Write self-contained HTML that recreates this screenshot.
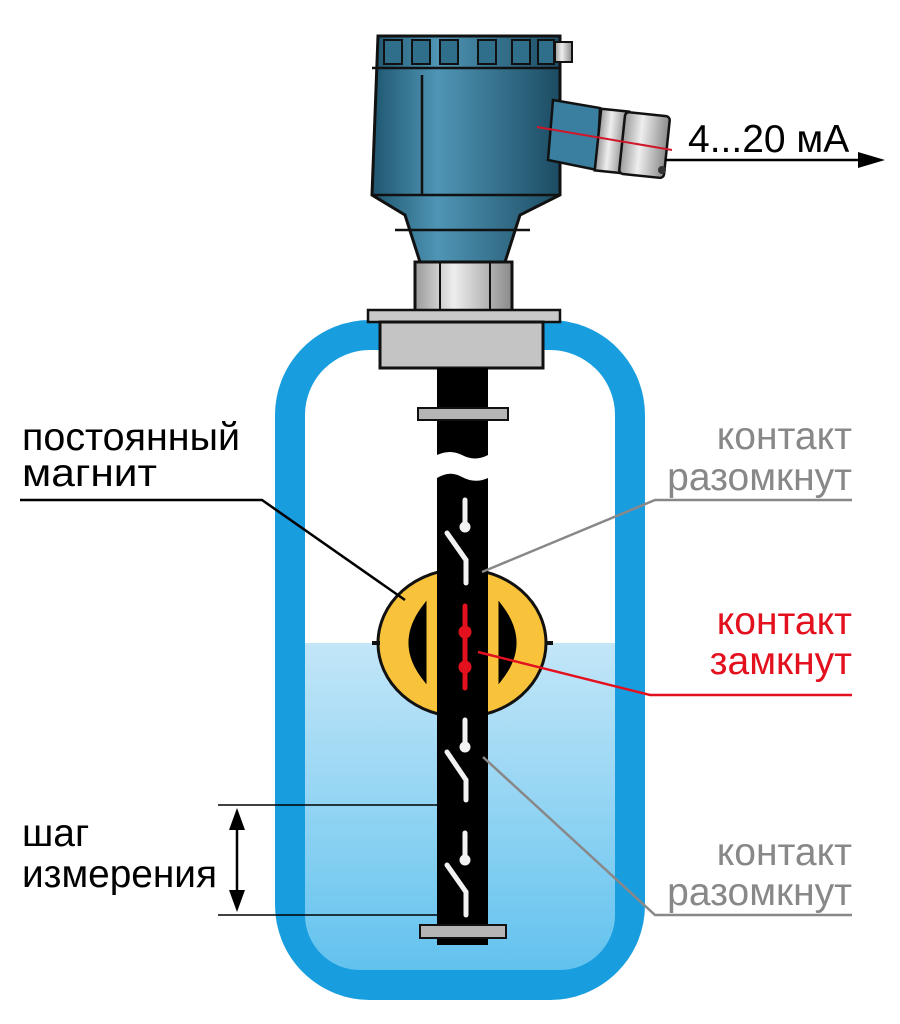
<!DOCTYPE html>
<html><head><meta charset="utf-8"><style>
html,body{margin:0;padding:0;background:#fff;}
svg{display:block;}
text{font-family:"Liberation Sans",sans-serif;font-size:39px;}
</style></head><body>
<svg width="900" height="1024" viewBox="0 0 900 1024" xmlns="http://www.w3.org/2000/svg">
<defs>
<linearGradient id="water" x1="0" y1="0" x2="0" y2="1"><stop offset="0" stop-color="#c3e6f8"/><stop offset="1" stop-color="#62c2ee"/></linearGradient>
<linearGradient id="body" x1="0" y1="0" x2="1" y2="0"><stop offset="0" stop-color="#1f566f"/><stop offset="0.35" stop-color="#4f95b5"/><stop offset="1" stop-color="#1c4c63"/></linearGradient>
<linearGradient id="metal" x1="0" y1="0" x2="1" y2="0"><stop offset="0" stop-color="#9a9a9a"/><stop offset="0.4" stop-color="#eeeeee"/><stop offset="1" stop-color="#8a8a8a"/></linearGradient>
<clipPath id="inner"><rect x="305" y="350" width="310" height="620" rx="55"/></clipPath>
</defs>
<rect x="290" y="335" width="340" height="650" rx="80" fill="none" stroke="#189ddf" stroke-width="30"/>
<rect x="305" y="643" width="310" height="327" fill="url(#water)" clip-path="url(#inner)"/>
<!-- head -->
<path d="M378 36 L560 36 L560 195 L520 215 L505 262 L420 262 L405 215 L372 195 Z" fill="url(#body)" stroke="#111" stroke-width="3"/>
<path d="M372 68 L560 68 M372 195 L560 195 M395 230 L530 230" stroke="#111" stroke-width="2.5" fill="none"/>
<g fill="#2f6f8c" stroke="#111" stroke-width="2">
<rect x="384" y="40" width="18" height="24"/><rect x="412" y="40" width="18" height="24"/><rect x="440" y="40" width="18" height="24"/><rect x="478" y="40" width="18" height="24"/><rect x="512" y="40" width="18" height="24"/><rect x="538" y="40" width="16" height="24"/>
</g>
<line x1="422" y1="75" x2="422" y2="195" stroke="#111" stroke-width="2.5"/>
<rect x="555" y="42" width="17" height="20" fill="url(#metal)" stroke="#111" stroke-width="2"/>
<path d="M553 100 L600 108 L597 170 L548 160 Z" fill="#3a7f9f" stroke="#111" stroke-width="2.5"/>
<rect x="598" y="110" width="28" height="62" fill="url(#metal)" stroke="#111" stroke-width="2.5" transform="rotate(6 612 140)"/>
<rect x="622" y="114" width="45" height="62" rx="4" fill="url(#metal)" stroke="#111" stroke-width="2.5" transform="rotate(6 644 145)"/>
<circle cx="662" cy="170" r="4" fill="#333"/>
<line x1="537" y1="127" x2="672" y2="150" stroke="#d2162a" stroke-width="2"/>
<rect x="415" y="262" width="97" height="50" fill="url(#metal)" stroke="#111" stroke-width="3"/>
<line x1="440" y1="262" x2="440" y2="312" stroke="#111" stroke-width="2"/><line x1="490" y1="262" x2="490" y2="312" stroke="#111" stroke-width="2"/>
<rect x="368" y="310" width="192" height="12" fill="#c9c9c9" stroke="#111" stroke-width="2.5"/>
<rect x="380" y="322" width="163" height="46" fill="#c4c4c4" stroke="#111" stroke-width="3"/>
<path d="M437 368 L488 368 L488 455 Q475 462 462 455 Q450 449 437 455 Z" fill="#000"/>
<rect x="418" y="408" width="90" height="12" fill="#b5b5b5" stroke="#111" stroke-width="2"/>
<ellipse cx="462" cy="643" rx="84" ry="74" fill="#f8c23a" stroke="#111" stroke-width="3"/>
<line x1="372" y1="643" x2="380" y2="643" stroke="#111" stroke-width="4"/><line x1="545" y1="643" x2="553" y2="643" stroke="#111" stroke-width="4"/>
<path d="M425 605 L425 680 Q395 643 425 605 Z" fill="#000" stroke="#000" stroke-width="3"/>
<path d="M500 605 L500 680 Q530 643 500 605 Z" fill="#000" stroke="#000" stroke-width="3"/>
<path d="M437 945 L437 478 Q450 470 462 477 Q475 484 488 478 L488 945 Z" fill="#000"/>
<rect x="420" y="925" width="86" height="13" fill="#b5b5b5" stroke="#111" stroke-width="2"/>
<g stroke="#f2f2f2" stroke-width="5" stroke-linecap="round" fill="#f2f2f2">
<line x1="465" y1="500" x2="465" y2="525"/><circle cx="465" cy="527" r="3"/>
<line x1="447" y1="533" x2="466" y2="560"/><line x1="466" y1="560" x2="466" y2="583"/>
<line x1="465" y1="720" x2="465" y2="745"/><circle cx="465" cy="747" r="3"/>
<line x1="447" y1="752" x2="466" y2="780"/><line x1="466" y1="780" x2="466" y2="800"/>
<line x1="465" y1="833" x2="465" y2="858"/><circle cx="465" cy="860" r="3"/>
<line x1="447" y1="865" x2="466" y2="892"/><line x1="466" y1="892" x2="466" y2="915"/>
</g>
<g stroke="#e3101e" stroke-width="5" stroke-linecap="round" fill="#e3101e">
<line x1="465" y1="606" x2="465" y2="688"/><circle cx="465" cy="632" r="4"/><circle cx="465" cy="667" r="4"/>
</g>
<polyline points="20,500 262,500 405,600" fill="none" stroke="#000" stroke-width="2.5"/>
<polyline points="852,500 655,500 482,572" fill="none" stroke="#888" stroke-width="2.5"/>
<polyline points="852,695 650,695 478,652" fill="none" stroke="#e3101e" stroke-width="2.5"/>
<polyline points="852,915 655,915 483,757" fill="none" stroke="#888" stroke-width="2.5"/>
<line x1="218" y1="805" x2="437" y2="805" stroke="#000" stroke-width="1.5"/>
<line x1="218" y1="915" x2="437" y2="915" stroke="#000" stroke-width="1.5"/>
<line x1="237" y1="820" x2="237" y2="900" stroke="#000" stroke-width="2.5"/>
<path d="M237 808 L229 830 L245 830 Z M237 912 L229 890 L245 890 Z" fill="#000"/>
<line x1="665" y1="160" x2="865" y2="160" stroke="#000" stroke-width="2.5"/>
<path d="M885 160 L858 152 L858 168 Z" fill="#000"/>
<text x="688" y="152" font-size="40">4...20 мА</text>
<text x="22" y="450" textLength="218" lengthAdjust="spacingAndGlyphs">постоянный</text>
<text x="22" y="486" textLength="135" lengthAdjust="spacingAndGlyphs">магнит</text>
<text x="852" y="449" text-anchor="end" fill="#888">контакт</text>
<text x="852" y="490" text-anchor="end" fill="#888">разомкнут</text>
<text x="852" y="634" text-anchor="end" fill="#e3101e">контакт</text>
<text x="852" y="674" text-anchor="end" fill="#e3101e">замкнут</text>
<text x="852" y="865" text-anchor="end" fill="#888">контакт</text>
<text x="852" y="905" text-anchor="end" fill="#888">разомкнут</text>
<text x="22" y="846">шаг</text>
<text x="22" y="887" textLength="195" lengthAdjust="spacingAndGlyphs">измерения</text>
</svg>
</body></html>
